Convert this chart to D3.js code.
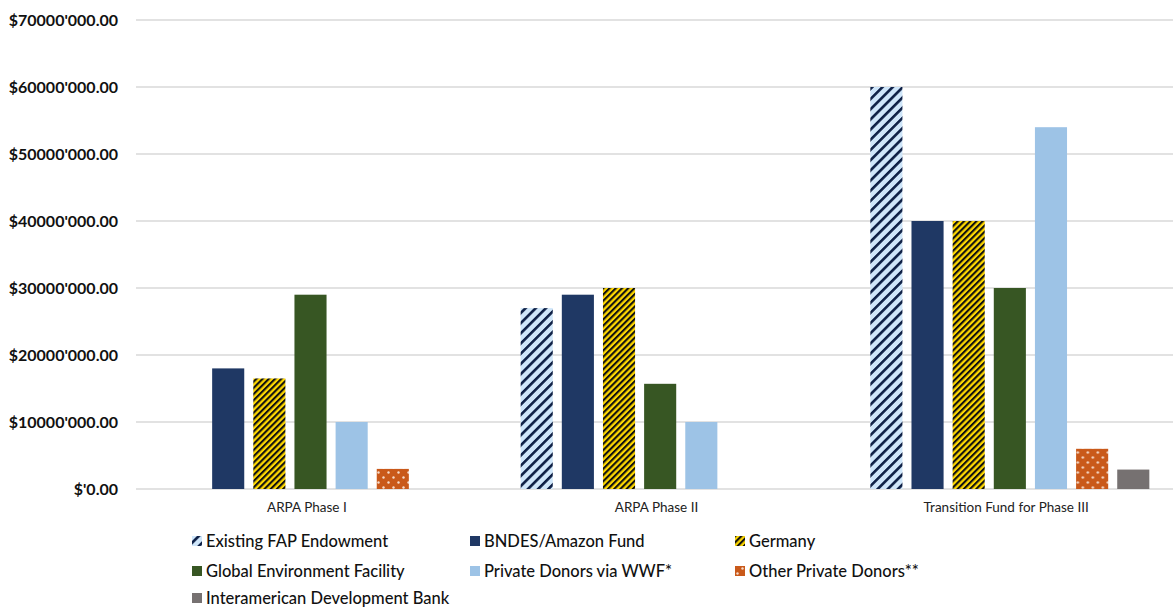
<!DOCTYPE html>
<html>
<head>
<meta charset="utf-8">
<script src="https://cdn.jsdelivr.net/npm/d3@7"></script>
<style>
  html, body { margin: 0; padding: 0; background: #fff; }
  svg { display: block; font-family: "Lato", "Open Sans", sans-serif; }
</style>
</head>
<body>
<svg id="chart" width="1173" height="610"></svg>
<script>
// Funding sources per phase (US$)
const categories = ["ARPA Phase I", "ARPA Phase II", "Transition Fund for Phase III"];
const seriesNames = [
  "Existing FAP Endowment",
  "BNDES/Amazon Fund",
  "Germany",
  "Global Environment Facility",
  "Private Donors via WWF*",
  "Other Private Donors**",
  "Interamerican Development Bank"
];
const fapEndowment   = [0, 27000000, 60000000];
const bndesAmazon    = [18000000, 29000000, 40000000];
const germany        = [16500000, 30000000, 40000000];
const gef            = [29000000, 15700000, 30000000];
const wwfDonors      = [10000000, 10000000, 54000000];
const otherPrivate   = [3000000, 0, 6000000];
const idb            = [0, 0, 2900000];
const seriesValues = [fapEndowment, bndesAmazon, germany, gef, wwfDonors, otherPrivate, idb];

const yTicks = [0, 10000000, 20000000, 30000000, 40000000, 50000000, 60000000, 70000000];
const yTickLabels = ["$'0.00", "$10000'000.00", "$20000'000.00", "$30000'000.00",
                     "$40000'000.00", "$50000'000.00", "$60000'000.00", "$70000'000.00"];

const svg = d3.select("#chart");
const defs = svg.append("defs");

// Fill patterns
function stripes(id, bg, fg, period, width) {
  const p = defs.append("pattern")
    .attr("id", id).attr("patternUnits", "userSpaceOnUse")
    .attr("width", period).attr("height", period)
    .attr("patternTransform", "rotate(45)");
  p.append("rect").attr("width", period).attr("height", period).attr("fill", bg);
  p.append("rect").attr("width", width).attr("height", period).attr("fill", fg);
}
stripes("pFAP", "#cfe6fa", "#0d1f45", 7.2, 2.6);
stripes("pGER", "#ffd800", "#111111", 4.4, 2.1);

const dots = defs.append("pattern")
  .attr("id", "pOTH").attr("patternUnits", "userSpaceOnUse")
  .attr("width", 10).attr("height", 10);
dots.append("rect").attr("width", 10).attr("height", 10).attr("fill", "#c9591a");
dots.append("circle").attr("cx", 2.5).attr("cy", 2.5).attr("r", 1.2).attr("fill", "#f6dccb");
dots.append("circle").attr("cx", 7.5).attr("cy", 7.5).attr("r", 1.2).attr("fill", "#f6dccb");

const fills = ["url(#pFAP)", "#1f3864", "url(#pGER)", "#375623", "#9dc3e6", "url(#pOTH)", "#767171"];

const plotLeft = 136, plotRight = 1185, plotTop = 20, plotBottom = 489;

const x0 = d3.scaleBand().domain(categories).range([plotLeft, plotRight]).padding(0);
const x1 = d3.scaleBand().domain(d3.range(seriesNames.length))
  .range([35, 314]).paddingInner(0.22).paddingOuter(0);
const y = d3.scaleLinear().domain([0, 70000000]).range([plotBottom, plotTop]);

// Gridlines
svg.append("g").selectAll("line").data(yTicks).join("line")
  .attr("x1", plotLeft).attr("x2", 1173)
  .attr("y1", d => y(d)).attr("y2", d => y(d))
  .attr("stroke", "#d9d9d9").attr("stroke-width", 1.5);

// Y axis labels
const yAxis = d3.axisLeft(y).tickValues(yTicks)
  .tickFormat((d, i) => yTickLabels[i]).tickSize(0).tickPadding(18);
const yg = svg.append("g").attr("transform", `translate(${plotLeft},0)`).call(yAxis);
yg.select(".domain").remove();
yg.selectAll("text").attr("font-size", 16).attr("font-weight", 700)
  .attr("fill", "#111").attr("font-family", "Lato, sans-serif");

// Bars
const groups = svg.append("g").selectAll("g").data(categories).join("g")
  .attr("transform", c => `translate(${x0(c)},0)`);
groups.selectAll("rect")
  .data((c, ci) => seriesValues.map((vals, si) => ({ si, v: vals[ci] })).filter(d => d.v > 0))
  .join("rect")
  .attr("x", d => x1(d.si))
  .attr("width", x1.bandwidth())
  .attr("y", d => y(d.v))
  .attr("height", d => y(0) - y(d.v))
  .attr("fill", d => fills[d.si]);

// Category axis
const xAxis = d3.axisBottom(x0).tickSize(0).tickPadding(13);
const xg = svg.append("g").attr("transform", `translate(-4,${plotBottom})`).call(xAxis);
xg.select(".domain").remove();
xg.selectAll("text").attr("font-size", 13.5).attr("fill", "#222")
  .attr("font-family", "Lato, sans-serif");

// Legend
const legCols = [192, 470, 735];
const legRows = [541, 571, 598];
const legend = svg.append("g").selectAll("g").data(seriesNames).join("g")
  .attr("transform", (d, i) => `translate(${legCols[i % 3]},${legRows[Math.floor(i / 3)]})`);
legend.append("rect")
  .attr("x", 0).attr("y", -5).attr("width", 10).attr("height", 10)
  .attr("fill", (d, i) => fills[i]);
legend.append("text")
  .attr("x", 14).attr("y", 0).attr("dy", "0.35em")
  .attr("font-size", 16.5).attr("font-weight", 500).attr("fill", "#111")
  .attr("font-family", "Lato, sans-serif")
  .text(d => d);
</script>
</body>
</html>
